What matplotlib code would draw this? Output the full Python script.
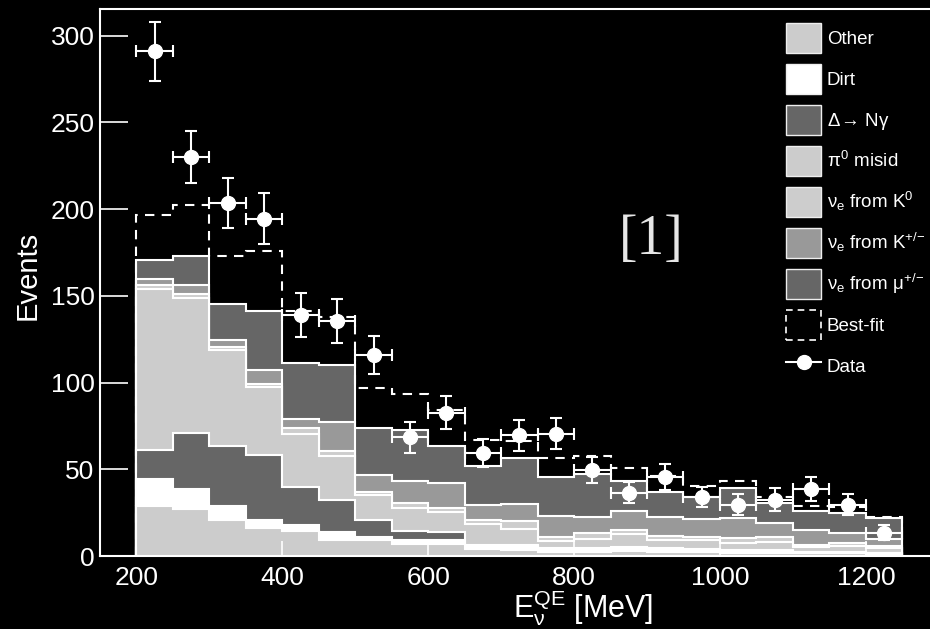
import numpy as np
import matplotlib.pyplot as plt
from matplotlib.patches import Patch
from matplotlib.lines import Line2D

plt.rcParams['font.family'] = ['Liberation Sans', 'DejaVu Sans']
plt.rcParams['mathtext.fontset'] = 'custom'
plt.rcParams['mathtext.rm'] = 'Liberation Sans'
plt.rcParams['mathtext.it'] = 'Liberation Sans'
plt.rcParams['mathtext.bf'] = 'Liberation Sans:bold'

# bin edges, MeV
edges = np.arange(200, 1251, 50)
centers = (edges[:-1] + edges[1:]) / 2

# background components per bin (bottom of stack first)
other = [29, 27, 20.5, 16, 14.5, 9.5, 9, 7, 7, 4, 3.5, 2.5, 2.5, 3, 2.5, 2.5, 2, 2, 1.5, 1.5, 1]
dirt = [15.5, 11.5, 8.5, 4.5, 3.5, 4.5, 2, 2.5, 2.5, 1.5, 1.5, 1, 1, 1, 1, 1, 1, 1, 0.5, 0.5, 0.5]
delta = [16.5, 32.5, 34.5, 38, 22, 18.5, 10, 5, 4.5, 1, 1.5, 1, 1, 1, 1, 0.5, 0.5, 0.5, 0.5, 0.5, 0.5]
pi0 = [93, 77.5, 55.5, 39, 30.5, 25, 14, 13, 11.5, 12, 9, 4, 5.5, 7.5, 5, 5, 4, 4.5, 2.5, 3.5, 2.5]
nue_k0 = [2, 2.5, 1.5, 1.5, 3.5, 3, 2, 3, 2, 2, 4.5, 2.5, 3, 2.5, 2, 2, 3, 3, 1.5, 1.5, 1]
nue_kpm = [3.5, 5, 4, 8.5, 5, 17, 9.5, 12.5, 14.5, 9, 10, 12, 9.5, 11, 11, 10.5, 11.5, 8, 8.5, 5.5, 4.5]
nue_mu = [11, 17, 21, 34, 32, 32.5, 27.5, 29.5, 21.5, 22.5, 26.5, 22.5, 25, 17, 14.5, 12.5, 17, 11.5, 11, 12, 12]

best_fit = [196.5, 202.5, 173, 176, 141, 138, 97, 93.5, 84, 67, 66, 56.5, 57.5, 51, 46, 40.5, 43, 34, 29, 28, 22.5]

data = [291, 230, 203.5, 194.5, 139, 135.5, 116, 68.5, 82.5, 59.5, 69.5, 70.5, 49.5, 36.5, 45.5, 34, 29.5, 32.5, 38.5, 29.5, 13.5]
data_err = [17, 15, 14.5, 14.5, 12.5, 12.5, 11, 9, 9.5, 8, 9, 9, 7.5, 6, 7.5, 6, 6, 6.5, 7, 6, 4.5]

labels = ['Other', 'Dirt', r'$\Delta\!\rightarrow\!$ N$\gamma$', r'$\pi^0$ misid',
          r'$\nu_e$ from K$^0$', r'$\nu_e$ from K$^{+/\!-}$', r'$\nu_e$ from $\mu^{+/\!-}$']
colors = ['#cccccc', '#ffffff', '#666666', '#cccccc', '#cdcdcd', '#999999', '#666666']

fig = plt.figure(figsize=(9.3, 6.29), dpi=100, facecolor='black')
ax = fig.add_axes([100 / 930, 73 / 629, 830 / 930, 547 / 629])
ax.set_facecolor('black')

layers = np.array([other, dirt, delta, pi0, nue_k0, nue_kpm, nue_mu])
cum = np.cumsum(layers, axis=0)
# draw biggest first like a THStack
for i in reversed(range(len(layers))):
    ax.stairs(cum[i], edges, baseline=0, fill=True, facecolor=colors[i],
              edgecolor='white', lw=1.5, zorder=1)

ax.stairs(best_fit, edges, baseline=0, color='white', lw=1.5,
          linestyle=(0, (4.5, 3.5)), zorder=3)

ax.errorbar(centers, data, yerr=data_err, xerr=25, fmt='o', color='white',
            markersize=10, elinewidth=1.5, capsize=4.5, capthick=1.5, zorder=4)

ax.set_xlim(150, 1288)
ax.set_ylim(0, 315.3)
ax.set_xticks([200, 400, 600, 800, 1000, 1200])
ax.set_xticks(np.arange(200, 1300, 50), minor=True)
ax.set_yticks(np.arange(0, 301, 50))
ax.set_yticks(np.arange(0, 311, 10), minor=True)

ax.tick_params(axis='both', colors='white', direction='in', labelsize=19, width=1.2)
ax.tick_params(axis='y', which='major', length=20, pad=4)
ax.tick_params(axis='y', which='minor', length=10)
ax.tick_params(axis='x', which='major', length=11, pad=7)
ax.tick_params(axis='x', which='minor', length=6)

for s in ['left', 'bottom', 'top']:
    ax.spines[s].set_color('white')
    ax.spines[s].set_linewidth(1.5)
ax.spines['right'].set_visible(False)

fig.text(28 / 930, 1 - 275 / 629, 'Events', rotation=90, ha='center', va='center',
         color='white', fontsize=21)
fig.text(583 / 930, 1 - 608 / 629, r'$\mathrm{E}_{\nu}^{\mathrm{QE}}$ [MeV]', ha='center',
         va='center', color='white', fontsize=22)
fig.text(651 / 930, 1 - 240 / 629, '[1]', ha='center', va='center', color='#e6e6e6',
         fontsize=40, family='Liberation Serif')

handles = [Patch(facecolor=c, edgecolor='#eeeeee', lw=1) for c in colors]
handles.append(Patch(facecolor='none', edgecolor='white', lw=1.2, linestyle=(0, (4, 3))))
handles.append(Line2D([], [], color='white', marker='o', markersize=10, lw=1.5))
leg = fig.legend(handles, labels + ['Best-fit', 'Data'], loc='upper left',
                 bbox_to_anchor=(786 / 930, 1 - 23 / 629), bbox_transform=fig.transFigure,
                 frameon=False, fontsize=13.5, handlelength=1.87, handleheight=2.085,
                 labelspacing=0.59, handletextpad=0.3, borderpad=0, borderaxespad=0)
for t in leg.get_texts():
    t.set_color('white')

fig.savefig('out.png', dpi=100, facecolor='black')
